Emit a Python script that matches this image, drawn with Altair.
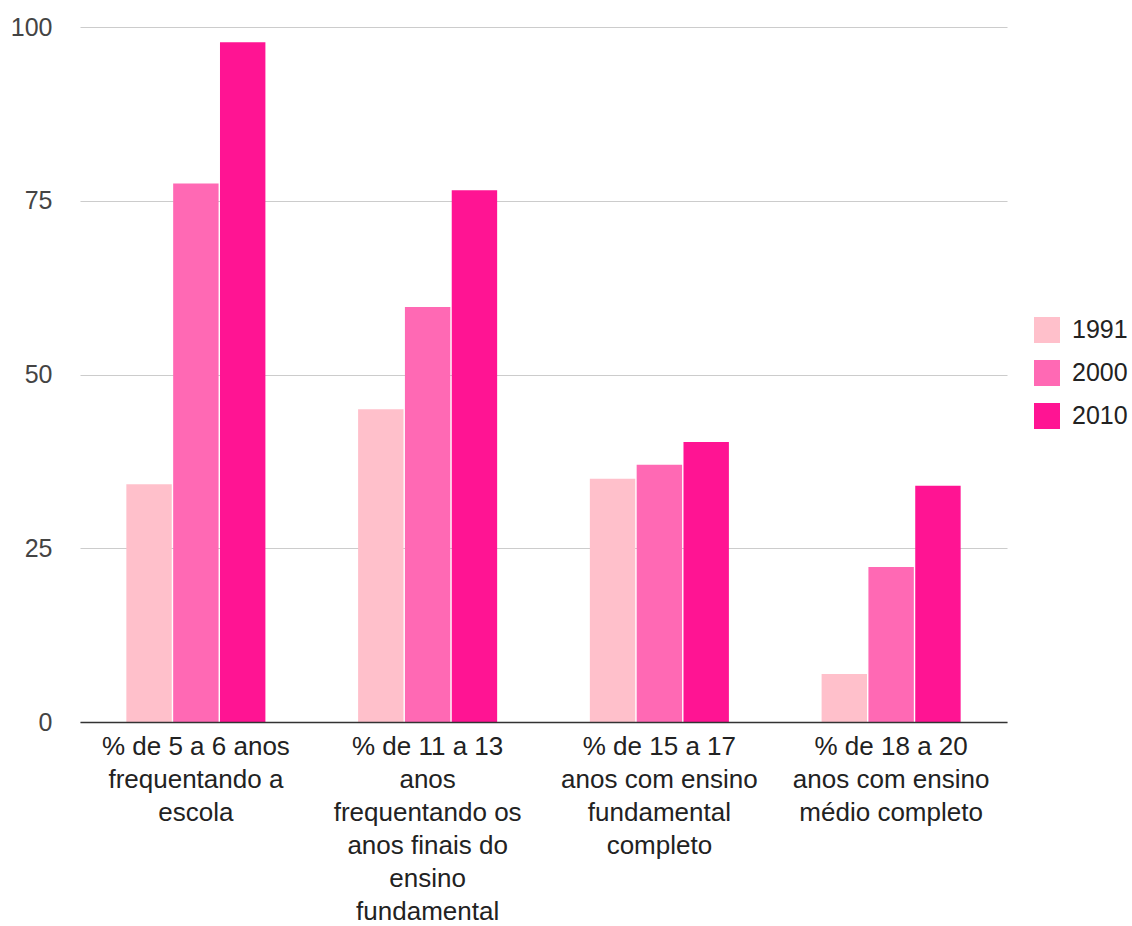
import altair as alt
import pandas as pd

categories = [
    "% de 5 a 6 anos\nfrequentando a\nescola",
    "% de 11 a 13\nanos\nfrequentando os\nanos finais do\nensino\nfundamental",
    "% de 15 a 17\nanos com ensino\nfundamental\ncompleto",
    "% de 18 a 20\nanos com ensino\nmédio completo",
]
years = ["1991", "2000", "2010"]
v1991 = [34.2, 45.0, 35.0, 6.9]
v2000 = [77.5, 59.7, 37.0, 22.3]
v2010 = [97.8, 76.5, 40.3, 34.0]
colors = ["#FFC0CB", "#FF69B4", "#FF1493"]
yticks = [0, 25, 50, 75, 100]

rows = []
for yr, vals in zip(years, [v1991, v2000, v2010]):
    for c, v in zip(categories, vals):
        rows.append({"cat": c, "year": yr, "value": v})
df = pd.DataFrame(rows)

FONT = "Liberation Sans"

chart = alt.Chart(df).mark_bar().encode(
    x=alt.X("cat:N", sort=categories, title=None,
            scale=alt.Scale(paddingInner=0.4, paddingOuter=0.2),
            axis=alt.Axis(labelAngle=0, labelExpr="split(datum.label, '\\n')",
                          labelFont=FONT, labelFontSize=26, labelColor="#222",
                          labelLineHeight=33, labelBaseline="top", labelPadding=11,
                          labelLimit=0, ticks=False, domainColor="#333",
                          domainWidth=1.5, grid=False, zindex=1)),
    xOffset=alt.XOffset("year:N", sort=years, scale=alt.Scale(paddingInner=0.03)),
    y=alt.Y("value:Q", title=None,
            scale=alt.Scale(domain=[0, 100], nice=False),
            axis=alt.Axis(values=yticks, labelFont=FONT, labelFontSize=25,
                          labelColor="#444", labelPadding=28, ticks=False,
                          domain=False, gridColor="#ccc", gridWidth=1.2)),
    color=alt.Color("year:N", sort=years,
                    scale=alt.Scale(domain=years, range=colors),
                    legend=alt.Legend(title=None, orient="none", legendX=954, legendY=290,
                                      symbolType="square", symbolSize=676,
                                      symbolStrokeWidth=0, labelFont=FONT,
                                      labelFontSize=25, labelColor="#222",
                                      labelOffset=12, rowPadding=17)),
).properties(
    width=927, height=695,
    background="white",
    padding={"left": 80, "top": 27, "right": 125, "bottom": 204},
    autosize=alt.AutoSizeParams(type="none"),
).configure_view(strokeWidth=0, stroke=None)

chart.save("out.html", embed_options={"renderer": "svg", "actions": False})
